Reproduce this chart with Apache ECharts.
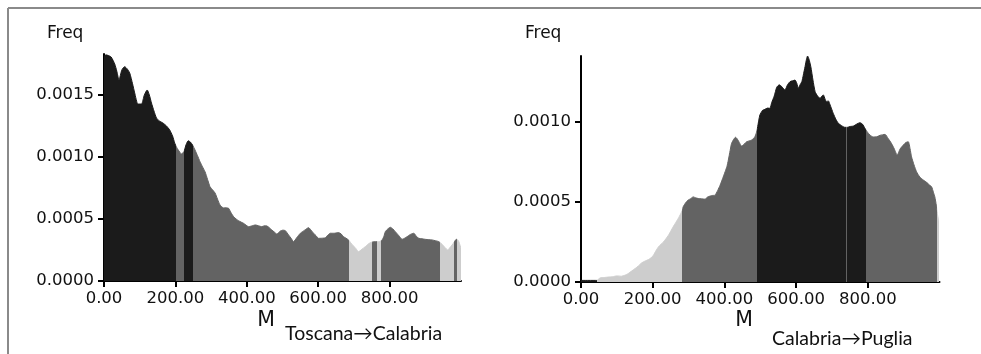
<!DOCTYPE html>
<html>
<head>
<meta charset="utf-8">
<script src="https://cdn.jsdelivr.net/npm/echarts@6/dist/echarts.min.js"></script>
<style>
  html, body { margin: 0; padding: 0; background: #fff; }
  #chart { width: 981px; height: 354px; }
</style>
</head>
<body>
<div id="chart"></div>
<script>
// Posterior density of M, Toscana -> Calabria
const leftM = [0, 5, 11, 20, 30, 36, 42, 50, 58, 65, 72, 80, 86, 95, 105, 113, 121, 127, 133, 140,
  147, 155, 165, 175, 184, 192, 198, 203, 208, 217, 224, 230, 236, 242, 248, 255, 262, 269, 276, 283,
  290, 297, 304, 311, 318, 325, 335, 342, 349, 356, 363, 370, 377, 384, 391, 398, 405, 415, 424, 433,
  442, 449, 456, 463, 470, 477, 484, 494, 501, 508, 517, 524, 531, 540, 550, 562, 573, 580, 587, 594,
  601, 610, 620, 627, 634, 645, 657, 664, 671, 678, 685, 692, 699, 706, 713, 722, 732, 739, 746, 753,
  760, 770, 779, 784, 788, 795, 802, 809, 816, 826, 835, 842, 849, 858, 868, 875, 882, 891, 900, 910,
  919, 928, 938, 947, 955, 963, 969, 975, 981, 987, 991, 994, 997, 1000];
const leftFreq = [0.001809, 0.001823, 0.001819, 0.001806, 0.00175, 0.00169, 0.001621, 0.001702, 0.001728, 0.00171,
  0.001677, 0.00159, 0.001516, 0.001427, 0.001427, 0.0015, 0.00154, 0.0015, 0.001435, 0.00137,
  0.001315, 0.00129, 0.001274, 0.00125, 0.001218, 0.00117, 0.001113, 0.00108, 0.001056, 0.001024,
  0.001043, 0.0011, 0.001131, 0.00112, 0.001097, 0.001056, 0.00101, 0.000962, 0.00092, 0.000881,
  0.00082, 0.00076, 0.000735, 0.00071, 0.00066, 0.000613, 0.000589, 0.00059, 0.000586, 0.00055,
  0.000519, 0.0005, 0.000486, 0.000475, 0.000465, 0.00045, 0.000438, 0.000445, 0.000452, 0.000445,
  0.000438, 0.000445, 0.000444, 0.00043, 0.000411, 0.000395, 0.000379, 0.000403, 0.00041, 0.000406,
  0.000371, 0.000345, 0.000317, 0.00035, 0.000385, 0.00041, 0.00043, 0.00041, 0.000385, 0.000365,
  0.000344, 0.000345, 0.000349, 0.00037, 0.000385, 0.000385, 0.00039, 0.00038, 0.000357, 0.000345,
  0.000331, 0.000305, 0.000282, 0.00026, 0.000236, 0.000255, 0.000277, 0.000295, 0.000309, 0.000315,
  0.000317, 0.000317, 0.000331, 0.00036, 0.000398, 0.00042, 0.000433, 0.00042, 0.000398, 0.000365,
  0.000336, 0.000345, 0.000357, 0.000375, 0.000385, 0.00036, 0.000344, 0.00034, 0.000336, 0.000333,
  0.000331, 0.000325, 0.000317, 0.000296, 0.00027, 0.00025, 0.00027, 0.00029, 0.000315, 0.000336,
  0.00033, 0.000317, 0.00029, 0.000264];
// Shaded intervals (HPD bands) along M
const leftBreaks = [0, 202, 225, 250, 687, 752, 766, 777, 940, 980, 989, 1000];
const leftShades = ['black', 'dark', 'black', 'dark', 'light', 'dark', 'light', 'dark', 'light', 'dark', 'light'];

// Posterior density of M, Calabria -> Puglia
const rightM = [0, 44, 53, 65, 76, 88, 100, 113, 122, 132, 141, 151, 160, 169, 178, 188, 195, 202, 209, 216,
  223, 230, 237, 244, 251, 257, 264, 271, 278, 283, 285, 292, 299, 306, 313, 320, 327, 336, 346, 353,
  360, 367, 374, 381, 388, 395, 402, 407, 411, 416, 420, 426, 431, 435, 439, 444, 448, 455, 462, 469,
  476, 481, 485, 489, 492, 496, 499, 506, 513, 520, 527, 532, 539, 546, 553, 560, 565, 569, 576, 583,
  590, 597, 602, 606, 611, 616, 620, 625, 629, 632, 636, 641, 647, 653, 660, 667, 672, 676, 681, 685,
  690, 694, 699, 704, 711, 718, 727, 736, 743, 750, 760, 769, 778, 785, 792, 799, 806, 815, 825, 834,
  848, 857, 866, 874, 882, 890, 899, 906, 913, 918, 922, 929, 936, 945, 955, 965, 972, 978, 983, 987,
  991, 994, 997, 999];
const rightFreq = [0.00001, 0.00001, 0.000025, 0.000028, 0.000031, 0.000033, 0.000038, 0.000036, 0.000042, 0.000053,
  0.000068, 0.000084, 0.0001, 0.000119, 0.00013, 0.00014, 0.00015, 0.000167, 0.000195, 0.000219,
  0.000235, 0.00025, 0.00027, 0.000292, 0.00032, 0.000344, 0.00037, 0.000396, 0.000425, 0.00045,
  0.000469, 0.000495, 0.000511, 0.00052, 0.000531, 0.000525, 0.000521, 0.000519, 0.000517, 0.00053,
  0.000536, 0.00054, 0.000542, 0.00057, 0.000604, 0.000645, 0.000688, 0.00072, 0.000761, 0.00082,
  0.000865, 0.00089, 0.000903, 0.000895, 0.000881, 0.00086, 0.000848, 0.00086, 0.000875, 0.00088,
  0.000886, 0.000895, 0.000906, 0.00093, 0.000959, 0.00101, 0.001042, 0.00107, 0.001077, 0.001085,
  0.001084, 0.00112, 0.00116, 0.001215, 0.00123, 0.001219, 0.001205, 0.001198, 0.00123, 0.00125,
  0.001255, 0.00126, 0.00124, 0.001209, 0.00123, 0.00125, 0.00129, 0.001344, 0.00139, 0.00141,
  0.00139, 0.001344, 0.00126, 0.001188, 0.00116, 0.001146, 0.00116, 0.001167, 0.00114, 0.001125,
  0.00113, 0.00111, 0.00108, 0.00105, 0.001015, 0.00099, 0.000975, 0.000965, 0.000965, 0.00097,
  0.000973, 0.000985, 0.000994, 0.000985, 0.000959, 0.000935, 0.000917, 0.000905, 0.000906, 0.000915,
  0.000921, 0.000895, 0.000865, 0.00083, 0.000792, 0.00083, 0.000854, 0.00087, 0.000875, 0.00083,
  0.000781, 0.00073, 0.000688, 0.000655, 0.000636, 0.00062, 0.000605, 0.000594, 0.00056, 0.000531,
  0.00048, 0.000427, 0.00039, 0.000375];
const rightBreaks = [0, 44, 283, 490, 738, 743, 794, 994, 1000];
const rightShades = ['black', 'light', 'dark', 'black', 'dark', 'black', 'dark', 'light'];

const xTicks = [0, 200, 400, 600, 800];
const yTicks = [0, 0.0005, 0.001, 0.0015];

const shadeColor = { black: '#1b1b1b', dark: '#636363', light: '#cdcdcd' };
const tickFont = 'DejaVu Sans';

function pieces(breaks, shades) {
  return shades.map((s, i) => {
    const p = { gte: breaks[i], color: shadeColor[s] };
    if (i === shades.length - 1) p.lte = breaks[i + 1]; else p.lt = breaks[i + 1];
    return p;
  });
}

function xAxisFor(gridIndex) {
  return {
    type: 'value', gridIndex, min: 0, max: 1000,
    splitLine: { show: false },
    axisLine: { show: true, onZero: false, lineStyle: { color: '#000', width: 2 } },
    axisTick: { show: true, length: 6, lineStyle: { color: '#000', width: 2 }, customValues: xTicks },
    axisLabel: {
      customValues: xTicks, margin: 9, color: '#111', fontFamily: tickFont, fontSize: 16.5,
      formatter: v => v.toFixed(2)
    }
  };
}

function yAxisFor(gridIndex, max) {
  return {
    type: 'value', gridIndex, min: 0, max, interval: 0.0005,
    splitLine: { show: false },
    axisLine: { show: true, lineStyle: { color: '#000', width: 2 } },
    axisTick: { show: true, length: 6, lineStyle: { color: '#000', width: 2 }, customValues: yTicks },
    axisLabel: {
      customValues: yTicks, margin: 10, color: '#111', fontFamily: tickFont, fontSize: 16.5,
      formatter: v => v.toFixed(4)
    }
  };
}

function densitySeries(idx, ms, fs) {
  return {
    type: 'line', xAxisIndex: idx, yAxisIndex: idx,
    data: ms.map((m, i) => [m, fs[i]]),
    showSymbol: false, smooth: 0.2,
    lineStyle: { width: 1 },
    areaStyle: { opacity: 1 },
    silent: true
  };
}

function text(x, y, str, size, family, align) {
  return {
    type: 'text', x, y, silent: true,
    style: { text: str, fill: '#111', font: size + 'px "' + family + '"', align: align || 'left', verticalAlign: 'middle' }
  };
}

const chart = echarts.init(document.getElementById('chart'), null, { renderer: 'canvas' });
chart.setOption({
  animation: false,
  backgroundColor: '#fff',
  grid: [
    { left: 104, top: 54, width: 357, height: 227 },
    { left: 581, top: 56, width: 358.5, height: 226 }
  ],
  xAxis: [xAxisFor(0), xAxisFor(1)],
  yAxis: [yAxisFor(0, 0.00183), yAxisFor(1, 0.00141)],
  visualMap: [
    { type: 'piecewise', show: false, dimension: 0, seriesIndex: 0, pieces: pieces(leftBreaks, leftShades) },
    { type: 'piecewise', show: false, dimension: 0, seriesIndex: 1, pieces: pieces(rightBreaks, rightShades) }
  ],
  series: [densitySeries(0, leftM, leftFreq), densitySeries(1, rightM, rightFreq)],
  graphic: [
    { type: 'line', silent: true, shape: { x1: 8, y1: 8, x2: 981, y2: 8 }, style: { stroke: '#8a8a8a', lineWidth: 2 } },
    { type: 'line', silent: true, shape: { x1: 8, y1: 8, x2: 8, y2: 354 }, style: { stroke: '#8a8a8a', lineWidth: 2 } },
    text(47, 34, 'Freq', 17, tickFont),
    text(525, 34, 'Freq', 17, tickFont),
    text(266, 321, 'M', 20.5, tickFont, 'center'),
    text(744, 321, 'M', 20.5, tickFont, 'center'),
    text(285, 334, 'Toscana→Calabria', 19.5, 'Lato'),
    text(772, 339, 'Calabria→Puglia', 19.5, 'Lato')
  ]
});
</script>
</body>
</html>
